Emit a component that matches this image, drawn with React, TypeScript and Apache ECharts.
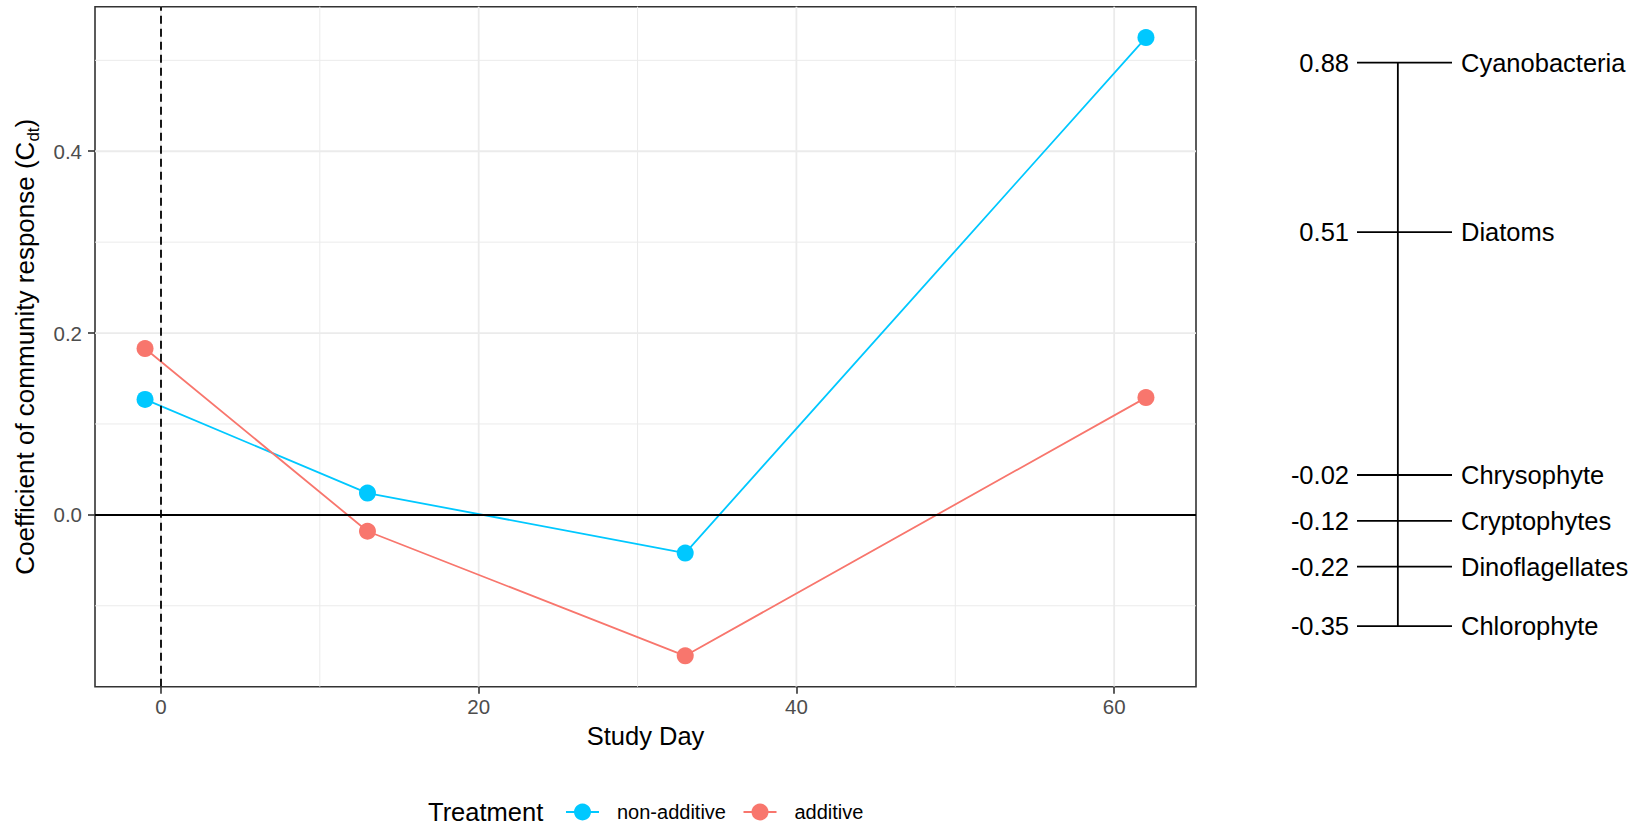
import React, { useEffect, useRef } from "react";
import * as echarts from "echarts";

// Study days and community response coefficients per treatment
const studyDays = [-1, 13, 33, 62];
const nonAdditive = [0.127, 0.024, -0.042, 0.525];
const additive = [0.183, -0.018, -0.155, 0.129];
const treatments = ["non-additive", "additive"];

// Axis breaks
const xMajor = [0, 20, 40, 60];
const xMinor = [10, 30, 50];
const yMajor = [0, 0.2, 0.4];
const yMinor = [-0.1, 0.1, 0.3, 0.5];

// Taxon weights shown on the side scale
const taxa = ["Cyanobacteria", "Diatoms", "Chrysophyte", "Cryptophytes", "Dinoflagellates", "Chlorophyte"];
const taxonWeights = [0.88, 0.51, -0.02, -0.12, -0.22, -0.35];

const FONT = '"Liberation Sans", Arial, sans-serif';
const BLUE = "#00C8FF";
const RED = "#F8766D";
const COLORS = [BLUE, RED];

function expand(values: number[], mult = 0.05): [number, number] {
  const lo = Math.min(...values);
  const hi = Math.max(...values);
  const pad = (hi - lo) * mult;
  return [lo - pad, hi + pad];
}

export default function App() {
  const ref = useRef<HTMLDivElement>(null);

  useEffect(() => {
    if (!ref.current) return;
    const chart = echarts.init(ref.current, undefined, { renderer: "svg" });
    const [xMin, xMax] = expand(studyDays);
    const [yMin, yMax] = expand([...nonAdditive, ...additive]);
    const wMax = Math.max(...taxonWeights);
    const wMin = Math.min(...taxonWeights);

    const gridLineSeries = (vals: number[], vertical: boolean, width: number) => ({
      type: "custom",
      xAxisIndex: 0,
      yAxisIndex: 0,
      silent: true,
      z: 0,
      data: vals.map((v) => (vertical ? [v, 0] : [0, v])),
      renderItem: (params: any, api: any) => {
        const cs = params.coordSys;
        const p = api.coord([api.value(0), api.value(1)]);
        return {
          type: "line",
          shape: vertical
            ? { x1: p[0], y1: cs.y, x2: p[0], y2: cs.y + cs.height }
            : { x1: cs.x, y1: p[1], x2: cs.x + cs.width, y2: p[1] },
          style: { stroke: "#EBEBEB", lineWidth: width },
        };
      },
    });

    // Legend keys: line with a point, then the treatment label
    const keyStarts = [566, 743.5];
    const legendY = 812;
    const legendKeys: any[] = [];
    treatments.forEach((name, i) => {
      const x0 = keyStarts[i];
      legendKeys.push(
        { type: "line", shape: { x1: x0, y1: legendY, x2: x0 + 33, y2: legendY }, style: { stroke: COLORS[i], lineWidth: 1.8 } },
        { type: "circle", shape: { cx: x0 + 16.5, cy: legendY, r: 8.5 }, style: { fill: COLORS[i] } },
        {
          type: "text",
          x: x0 + 51,
          y: legendY,
          style: { text: name, fontSize: 20, fill: "#000000", fontFamily: FONT, verticalAlign: "middle", align: "left" },
        }
      );
    });

    const option: any = {
      animation: false,
      textStyle: { fontFamily: FONT },
      grid: [
        { left: 95, top: 6.7, width: 1101, height: 680, show: true, borderColor: "#333333", borderWidth: 1.6, backgroundColor: "transparent" },
        { left: 1357, top: 62.7, width: 95, height: 563.5, show: false },
      ],
      xAxis: [
        {
          type: "value",
          gridIndex: 0,
          min: xMin,
          max: xMax,
          axisLine: { show: false, onZero: false },
          splitLine: { show: false },
          axisTick: { show: true, customValues: xMajor, length: 7, lineStyle: { color: "#333333", width: 1.6 } },
          axisLabel: { customValues: xMajor, fontSize: 20.5, color: "#4D4D4D", margin: 9, fontFamily: FONT },
          name: "Study Day",
          nameLocation: "middle",
          nameGap: 36,
          nameTextStyle: { fontSize: 25.5, color: "#000000", fontFamily: FONT },
        },
        { type: "value", gridIndex: 1, min: 0, max: 1, show: false },
      ],
      yAxis: [
        {
          type: "value",
          gridIndex: 0,
          min: yMin,
          max: yMax,
          axisLine: { show: false, onZero: false },
          splitLine: { show: false },
          axisTick: { show: true, customValues: yMajor, length: 7, lineStyle: { color: "#333333", width: 1.6 } },
          axisLabel: {
            customValues: yMajor,
            fontSize: 20.5,
            color: "#4D4D4D",
            margin: 13,
            fontFamily: FONT,
            formatter: (v: number) => v.toFixed(1),
          },
          name: "Coefficient of community response (C{sub|dt})",
          nameLocation: "middle",
          nameGap: 53,
          nameTextStyle: {
            fontSize: 26,
            color: "#000000",
            fontFamily: FONT,
            lineHeight: 34,
            rich: { sub: { fontSize: 17, lineHeight: 17, verticalAlign: "bottom", color: "#000000", fontFamily: FONT } },
          },
        },
        { type: "value", gridIndex: 1, min: wMin, max: wMax, show: false },
      ],
      graphic: [
        {
          type: "text",
          left: 428,
          top: 799,
          style: { text: "Treatment", fontSize: 25.5, fill: "#000000", fontFamily: FONT },
        },
        ...legendKeys,
      ],
      series: [
        gridLineSeries(xMinor, true, 1),
        gridLineSeries(yMinor, false, 1),
        gridLineSeries(xMajor, true, 1.8),
        gridLineSeries(yMajor, false, 1.8),
        {
          name: "reference",
          type: "line",
          xAxisIndex: 0,
          yAxisIndex: 0,
          data: [],
          z: 1,
          markLine: {
            silent: true,
            symbol: "none",
            label: { show: false },
            data: [
              { yAxis: 0, lineStyle: { color: "#000000", width: 1.8, type: "solid" } },
              { xAxis: 0, lineStyle: { color: "#000000", width: 1.8, type: [8, 5] } },
            ],
          },
        },
        {
          name: treatments[0],
          type: "line",
          xAxisIndex: 0,
          yAxisIndex: 0,
          z: 3,
          data: studyDays.map((d, i) => [d, nonAdditive[i]]),
          symbol: "circle",
          symbolSize: 17,
          itemStyle: { color: BLUE },
          lineStyle: { color: BLUE, width: 1.8 },
        },
        {
          name: treatments[1],
          type: "line",
          xAxisIndex: 0,
          yAxisIndex: 0,
          z: 3,
          data: studyDays.map((d, i) => [d, additive[i]]),
          symbol: "circle",
          symbolSize: 17,
          itemStyle: { color: RED },
          lineStyle: { color: RED, width: 1.8 },
        },
        {
          name: "scale",
          type: "line",
          xAxisIndex: 1,
          yAxisIndex: 1,
          showSymbol: false,
          symbol: "none",
          data: [
            [0.43, wMax],
            [0.43, wMin],
          ],
          lineStyle: { color: "#000000", width: 1.8 },
        },
        {
          name: "taxa",
          type: "custom",
          xAxisIndex: 1,
          yAxisIndex: 1,
          data: taxonWeights.map((w, i) => [0, w, i]),
          renderItem: (params: any, api: any) => {
            const w = api.value(1);
            const idx = api.value(2);
            const a = api.coord([0, w]);
            const b = api.coord([1, w]);
            return {
              type: "group",
              children: [
                { type: "line", shape: { x1: a[0], y1: a[1], x2: b[0], y2: b[1] }, style: { stroke: "#000000", lineWidth: 1.8 } },
                {
                  type: "text",
                  x: a[0] - 8,
                  y: a[1],
                  style: { text: w.toFixed(2), align: "right", verticalAlign: "middle", fontSize: 25.5, fontFamily: FONT, fill: "#000000" },
                },
                {
                  type: "text",
                  x: b[0] + 9,
                  y: b[1],
                  style: { text: taxa[idx], align: "left", verticalAlign: "middle", fontSize: 25.5, fontFamily: FONT, fill: "#000000" },
                },
              ],
            };
          },
        },
      ],
    };

    chart.setOption(option);
    return () => chart.dispose();
  }, []);

  return (
    <div
      ref={ref}
      style={{ position: "absolute", left: 0, top: 0, width: 1642, height: 827, background: "#FFFFFF" }}
    />
  );
}
